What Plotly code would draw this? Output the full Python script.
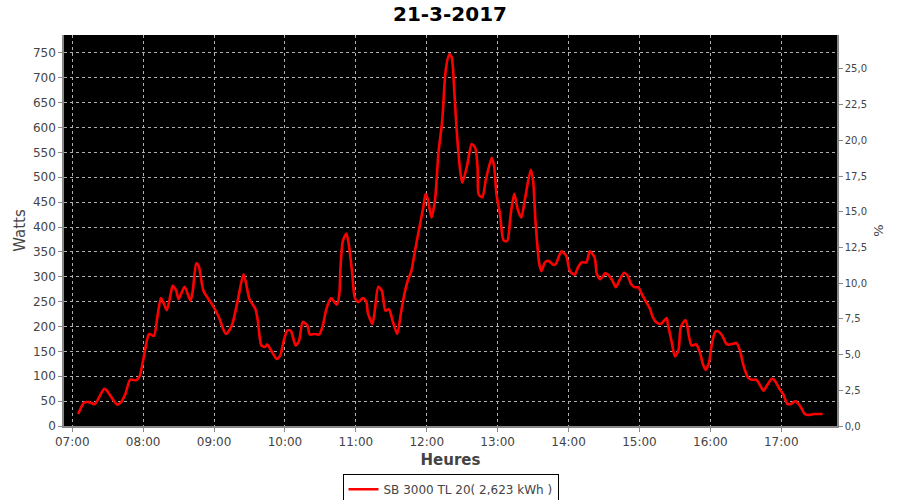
import plotly.graph_objects as go

DAY = "2017-03-21"
TITLE = "21-3-2017"
SERIES_NAME = "SB 3000 TL 20( 2,623 kWh )"

times = [
    "07:05", "07:10", "07:14", "07:19", "07:23", "07:27", "07:29", "07:38", "07:41", "07:45",
    "07:49", "07:54", "07:57", "08:01", "08:05", "08:09", "08:12", "08:15", "08:17", "08:20",
    "08:23", "08:25", "08:28", "08:30", "08:35", "08:40", "08:42", "08:45", "08:47", "08:51",
    "08:59", "09:04", "09:10", "09:15", "09:20", "09:25", "09:30", "09:35", "09:37", "09:40",
    "09:43", "09:45", "09:49", "09:53", "09:56", "09:59", "10:02", "10:05", "10:09", "10:12",
    "10:15", "10:19", "10:21", "10:25", "10:29", "10:32", "10:35", "10:39", "10:41", "10:44",
    "10:46", "10:47", "10:49", "10:52", "10:54", "10:57", "10:59", "11:02", "11:06", "11:09",
    "11:10", "11:14", "11:16", "11:19", "11:22", "11:25", "11:28", "11:31", "11:35", "11:38",
    "11:41", "11:44", "11:47", "11:50", "11:54", "11:57", "11:59", "12:01", "12:04", "12:07",
    "12:10", "12:13", "12:16", "12:19", "12:21", "12:23", "12:25", "12:28", "12:30", "12:34",
    "12:38", "12:41", "12:43", "12:44", "12:47", "12:50", "12:55", "12:57", "12:59", "13:02",
    "13:05", "13:08", "13:11", "13:14", "13:17", "13:20", "13:23", "13:28", "13:30", "13:32",
    "13:35", "13:37", "13:40", "13:43", "13:47", "13:49", "13:54", "13:58", "14:01", "14:05",
    "14:08", "14:11", "14:15", "14:18", "14:22", "14:24", "14:27", "14:31", "14:33", "14:37",
    "14:40", "14:43", "14:47", "14:50", "14:53", "14:56", "14:59", "15:02", "15:05", "15:09",
    "15:11", "15:14", "15:18", "15:23", "15:24", "15:27", "15:30", "15:33", "15:35", "15:39",
    "15:42", "15:44", "15:48", "15:51", "15:54", "15:56", "15:59", "16:01", "16:04", "16:06",
    "16:10", "16:14", "16:19", "16:22", "16:25", "16:28", "16:32", "16:35", "16:39", "16:42",
    "16:45", "16:48", "16:52", "16:54", "16:58", "17:02", "17:05", "17:08", "17:12", "17:16",
    "17:20", "17:23", "17:28", "17:35",
]

watts = [
    24, 47, 48, 44, 59, 75, 72, 43, 47, 65,
    93, 92, 100, 145, 185, 181, 219, 257, 249, 233,
    262, 282, 272, 255, 280, 252, 272, 327, 322, 272,
    242, 219, 185, 202, 252, 305, 255, 235, 212, 162,
    159, 164, 149, 135, 142, 172, 192, 191, 162, 172,
    209, 202, 184, 185, 184, 202, 235, 257, 252, 244,
    265, 319, 372, 387, 365, 305, 259, 249, 257, 249,
    229, 205, 232, 280, 272, 232, 235, 212, 185, 225,
    265, 293, 312, 352, 402, 439, 467, 455, 419, 455,
    552, 612, 715, 747, 742, 685, 605, 519, 489, 522,
    567, 559, 519, 465, 460, 495, 539, 522, 465, 425,
    373, 372, 425, 467, 435, 419, 455, 515, 492, 412,
    329, 311, 329, 332, 324, 325, 351, 342, 312, 304,
    319, 329, 329, 351, 339, 305, 295, 307, 305, 293,
    279, 293, 308, 302, 285, 279, 279, 265, 252, 235,
    220, 209, 205, 217, 205, 172, 140, 152, 199, 213,
    179, 162, 164, 149, 122, 113, 129, 162, 189, 191,
    182, 164, 165, 167, 152, 122, 97, 93, 93, 82,
    71, 82, 95, 93, 77, 62, 45, 44, 50, 40,
    24, 22, 24, 24,
]

hour_ticks = ["07:00", "08:00", "09:00", "10:00", "11:00", "12:00",
              "13:00", "14:00", "15:00", "16:00", "17:00"]
x_range = ["06:53:00", "17:47:10"]
watts_range = [0, 786]
pct_range = [0, 27.38]

GRID = "#b0b0b0"
AXC = "#888888"
TXT = "#444444"
FONT = "DejaVu Sans"

x_vals = [f"{DAY} {t}" for t in times]

fig = go.Figure()
fig.add_trace(go.Scatter(
    x=x_vals, y=watts, mode="lines", name=SERIES_NAME,
    line=dict(color="#ff0000", width=2.6, shape="spline", smoothing=0.7),
))
fig.add_trace(go.Scatter(x=[x_vals[0]], y=[None], yaxis="y2", showlegend=False,
                         mode="lines", hoverinfo="skip"))

fig.update_layout(
    width=900, height=500,
    margin=dict(l=64, r=63, t=35, b=74, autoexpand=False),
    paper_bgcolor="white", plot_bgcolor="black",
    separators=", ",
    font=dict(family=FONT, size=12, color=TXT),
    title=dict(text="<b>" + TITLE + "</b>", x=0.5, xanchor="center",
               y=0.972, yanchor="middle", yref="container",
               font=dict(family=FONT, size=20, color="black")),
    xaxis=dict(
        type="date", range=[f"{DAY} {x_range[0]}", f"{DAY} {x_range[1]}"],
        tickvals=[f"{DAY} {t}" for t in hour_ticks], ticktext=hour_ticks,
        showgrid=True, gridcolor=GRID, griddash="3px,3px", gridwidth=1,
        showline=True, linecolor=AXC, linewidth=1.5,
        ticks="outside", ticklen=4, tickcolor=AXC,
        tickfont=dict(family=FONT, size=12, color=TXT),
        title=dict(text="<b>Heures</b>", font=dict(family=FONT, size=15, color=TXT), standoff=6),
        zeroline=False, automargin=False,
    ),
    yaxis=dict(
        range=watts_range, dtick=50, tick0=0,
        showgrid=True, gridcolor=GRID, griddash="3px,3px", gridwidth=1,
        showline=True, linecolor=AXC, linewidth=1.5,
        ticks="outside", ticklen=4, tickcolor=AXC,
        tickfont=dict(family=FONT, size=12, color=TXT),
        title=dict(text="Watts", font=dict(family=FONT, size=15, color=TXT), standoff=4),
        zeroline=False, automargin=False,
    ),
    yaxis2=dict(
        range=pct_range, dtick=2.5, tick0=0, tickformat=".1f",
        overlaying="y", side="right", showgrid=False,
        showline=True, linecolor=AXC, linewidth=1.5,
        ticks="outside", ticklen=4, tickcolor=AXC,
        tickfont=dict(family=FONT, size=10, color=TXT),
        title=dict(text="%", font=dict(family=FONT, size=13, color=TXT), standoff=8),
        zeroline=False, automargin=False,
    ),
    legend=dict(
        orientation="h", x=0.5, xanchor="center", y=-0.122, yanchor="top",
        bordercolor="black", borderwidth=1, bgcolor="white",
        font=dict(family=FONT, size=12, color=TXT),
        itemwidth=30,
    ),
    showlegend=True,
)

fig.write_html(
    "out.html",
    config={"displayModeBar": False},
    post_script="document.body.style.margin='0';document.body.style.overflow='hidden';",
)
